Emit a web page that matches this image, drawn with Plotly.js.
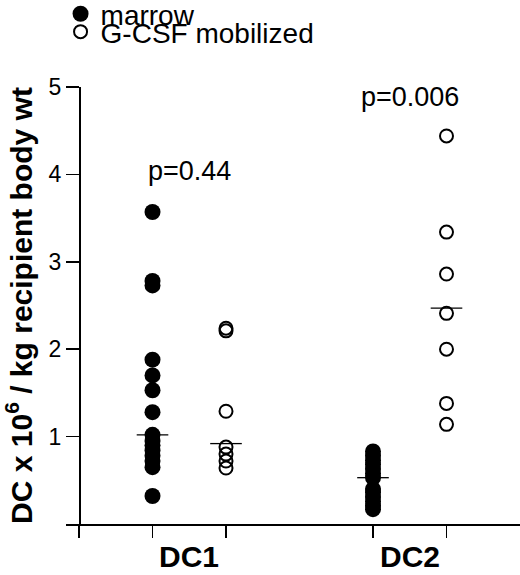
<!DOCTYPE html>
<html>
<head>
<meta charset="utf-8">
<script src="https://cdn.plot.ly/plotly-3.0.1.min.js"></script>
<style>html,body{margin:0;padding:0;background:#fff;}#chart{width:520px;height:575px;}</style>
</head>
<body>
<div id="chart"></div>
<script>
// ---- data ----
const categories = ['DC1', 'DC2'];
const seriesNames = ['marrow', 'G-CSF mobilized'];
const marrowDC1 = [3.57, 2.78, 2.73, 1.88, 1.70, 1.53, 1.28, 1.02, 0.95, 0.90, 0.84, 0.78, 0.72, 0.65, 0.32];
const marrowDC2 = [0.83, 0.78, 0.73, 0.68, 0.63, 0.58, 0.53, 0.40, 0.36, 0.31, 0.26, 0.21, 0.17];
const mobilDC1 = [2.24, 2.21, 1.29, 0.88, 0.80, 0.72, 0.64];
const mobilDC2 = [4.44, 3.34, 2.86, 2.41, 2.00, 1.38, 1.14];
const marrowMedians = [1.02, 0.53];
const mobilMedians = [0.92, 2.47];
const pLabels = ['p=0.44', 'p=0.006'];
const pHeights = [4.04, 4.89];
const yTicks = [1, 2, 3, 4, 5];

// ---- layout helpers ----
const groupBase = g => 1 + 3 * g;          // marrow column of group g
const marrowData = [marrowDC1, marrowDC2];
const mobilData = [mobilDC1, mobilDC2];

function column(dataArr, offset) {
  const x = [], y = [];
  dataArr.forEach((vals, g) => vals.forEach(v => { x.push(groupBase(g) + offset); y.push(v); }));
  return {x, y};
}
const m = column(marrowData, 0);
const o = column(mobilData, 1);

const halfW = 0.215;
const medX = [], medY = [];
[[marrowMedians, 0], [mobilMedians, 1]].forEach(([meds, off]) => {
  meds.forEach((v, g) => {
    const c = groupBase(g) + off;
    medX.push(c - halfW, c + halfW, null);
    medY.push(v, v, null);
  });
});

const FONT = 'Liberation Sans, Arial, Helvetica, sans-serif';

const traces = [
  {type: 'scatter', mode: 'markers', name: seriesNames[0], x: m.x, y: m.y, legend: 'legend',
   marker: {symbol: 'circle', size: 16, color: '#000', line: {width: 0}}, cliponaxis: false},
  {type: 'scatter', mode: 'markers', name: seriesNames[1], x: o.x, y: o.y, legend: 'legend2',
   marker: {symbol: 'circle-open', size: 13, color: '#000', line: {width: 2, color: '#000'}}, cliponaxis: false},
  {type: 'scatter', mode: 'lines', x: medX, y: medY, showlegend: false, hoverinfo: 'skip',
   line: {color: '#000', width: 1.3}}
];

const xMin = -0.177, xMax = 6.0;
const annotations = [];
categories.forEach((c, g) => {
  annotations.push({x: groupBase(g) + 0.5, y: 0, xref: 'x', yref: 'paper', yanchor: 'top', yshift: -14,
    text: c, showarrow: false, font: {family: FONT, size: 30, color: '#000', weight: 'bold'}});
  annotations.push({x: groupBase(g) + 0.5, y: pHeights[g], xref: 'x', yref: 'y', yanchor: 'middle',
    text: pLabels[g], showarrow: false, font: {family: FONT, size: 27, color: '#000'}});
});

const layout = {
  width: 520, height: 575,
  margin: {l: 66, r: 0, t: 87, b: 51, pad: 0, autoexpand: false},
  paper_bgcolor: '#fff', plot_bgcolor: '#fff',
  font: {family: FONT, color: '#000'},
  showlegend: true,
  legend: {x: -0.012, xanchor: 'left', y: 1.167, yanchor: 'middle', bgcolor: 'rgba(0,0,0,0)',
           font: {family: FONT, size: 28, color: '#000'}, borderwidth: 0},
  legend2: {x: -0.012, xanchor: 'left', y: 1.126, yanchor: 'middle', bgcolor: 'rgba(0,0,0,0)',
           font: {family: FONT, size: 28, color: '#000'}, borderwidth: 0},
  xaxis: {range: [xMin, xMax], showline: true, linecolor: '#000', linewidth: 1.5,
          ticks: 'outside', ticklen: 12, tickwidth: 1.5, tickcolor: '#000',
          tickvals: [0, 1, 2, 4, 5], showticklabels: false, showgrid: false, zeroline: false, fixedrange: true},
  yaxis: {range: [0, 5], anchor: 'free', position: (0 - xMin) / (xMax - xMin),
          showline: true, linecolor: '#000', linewidth: 1.5,
          ticks: 'outside', ticklen: 13, tickwidth: 1.5, tickcolor: '#000',
          tickvals: yTicks, tickfont: {family: FONT, size: 23, color: '#000'},
          showgrid: false, zeroline: false, fixedrange: true,
          title: {text: 'DC x 10<sup>6</sup> / kg recipient body wt', standoff: 12,
                  font: {family: FONT, size: 30, color: '#000', weight: 'bold'}}},
  annotations: annotations
};

Plotly.newPlot('chart', traces, layout, {staticPlot: true, displayModeBar: false});
</script>
</body>
</html>
